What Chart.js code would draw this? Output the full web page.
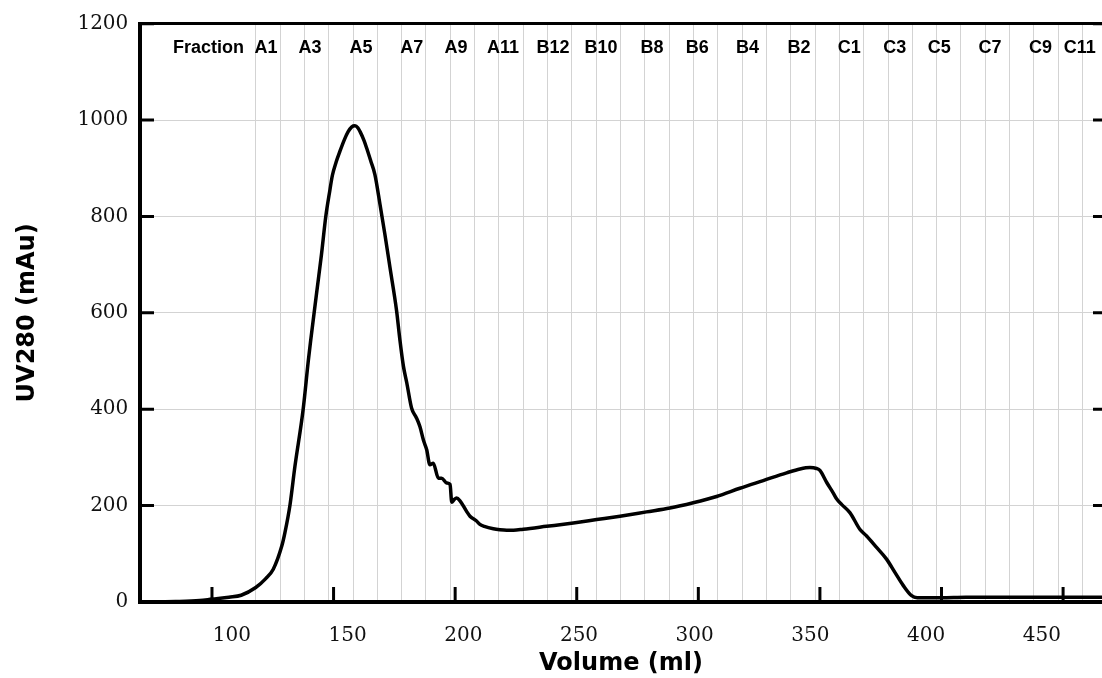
<!DOCTYPE html>
<html>
<head>
<meta charset="utf-8">
<title>UV280 elution profile</title>
<script src="https://cdn.jsdelivr.net/npm/chart.js@4.4.1/dist/chart.umd.min.js"></script>
<style>
  body { margin: 0; background: #fff; }
  #wrap { width: 1102px; height: 678px; }
</style>
</head>
<body>
<div id="wrap"><canvas id="uvchart" width="1102" height="678"></canvas></div>
<script>
// elution volume (ml) and absorbance (mAu)
var volumes = [70, 85, 95, 100, 107, 112, 118, 122, 125.2, 128.7,
  130, 132.1, 134.1, 137.5, 139.6, 140.6, 143, 145, 146.8, 148.5,
  149.5, 151, 152.6, 154.5, 156, 157.5, 158.8, 160, 160.9, 162.5,
  163.6, 165.3, 167, 169.1, 171.1, 173.2, 175.9, 177.3, 178.7, 180.1,
  182.1, 184, 185.5, 187, 188.3, 189.6, 191, 193.1, 194.4, 196.5,
  197.9, 198.6, 199.5, 200.6, 202, 204.7, 206.1, 208.8, 210.2, 212,
  215.7, 218.4, 221.2, 224, 228, 237.6, 248.6, 258.2, 267.8, 278.7,
  288.3, 297.9, 307.5, 317.1, 326.7, 336.3, 341.8, 345.9, 348.6, 350,
  352.8, 355.5, 357, 359, 362.4, 366.4, 369.2, 373, 377.4, 380.9,
  384.3, 387.7, 390, 392.5, 400, 410, 420, 440, 466];
var uv280 = [0, 1, 3, 6, 10, 14, 30, 48, 68, 116,
  144, 202, 281, 400, 500, 543, 640, 720, 800, 855,
  885, 912, 935, 960, 976, 986, 988, 984, 976, 958,
  942, 915, 887, 825, 763, 694, 605, 543, 490, 455,
  402, 383, 364, 335, 316, 285, 288, 257, 257, 247,
  244, 207, 212, 216, 210, 188, 178, 168, 161, 157,
  152, 150, 149, 149, 151, 157, 164, 171, 178, 187,
  195, 206, 219, 236, 252, 268, 276, 279, 277, 273,
  248, 226, 213, 202, 185, 151, 137, 115, 89, 61,
  34, 13, 9, 9, 9, 10, 10, 10, 10];

var volumeTicks = [100, 150, 200, 250, 300, 350, 400, 450];
var uvTicks = [0, 200, 400, 600, 800, 1000, 1200];

// fraction boundaries (ml) and the fraction names along the top
var fractionEdges = [118, 128, 138, 148, 158, 168, 178, 188, 198, 208,
  218, 228, 238, 248, 258, 268, 278, 288, 298, 308,
  318, 328, 338, 348, 358, 368, 378, 388, 398, 408,
  418, 428, 438, 448, 458];
var fractionNames = ['Fraction', 'A1', 'A3', 'A5', 'A7', 'A9', 'A11', 'B12', 'B10', 'B8',
  'B6', 'B4', 'B2', 'C1', 'C3', 'C5', 'C7', 'C9', 'C11'];
var fractionPos = [98.6, 122.2, 140.3, 161.3, 182.2, 200.3, 219.7, 240.2, 260.0, 280.9,
  299.6, 320.2, 341.4, 362.1, 380.8, 399.1, 419.9, 440.7, 456.9];

var points = volumes.map(function (v, i) { return {x: v, y: uv280[i]}; });

// inward tick marks on left, right and bottom
var tickMarks = {
  id: 'tickMarks',
  afterDatasetsDraw: function (chart) {
    var ctx = chart.ctx, a = chart.chartArea;
    var xs = chart.scales.x, ys = chart.scales.y;
    ctx.save();
    ctx.strokeStyle = '#000';
    ctx.lineWidth = 3;
    ctx.beginPath();
    uvTicks.forEach(function (v) {
      var py = ys.getPixelForValue(v);
      ctx.moveTo(a.left, py); ctx.lineTo(a.left + 14, py);
      ctx.moveTo(a.right - 9, py); ctx.lineTo(a.right, py);
    });
    volumeTicks.forEach(function (v) {
      var px = xs.getPixelForValue(v);
      ctx.moveTo(px, a.bottom); ctx.lineTo(px, a.bottom - 15);
    });
    ctx.stroke();
    ctx.restore();
  }
};

var serif = {family: 'DejaVu Serif', size: 20};
var titleFont = {family: 'DejaVu Sans', size: 24, weight: 'bold'};

new Chart(document.getElementById('uvchart'), {
  type: 'line',
  data: {
    datasets: [{
      data: points,
      xAxisID: 'x',
      yAxisID: 'y',
      borderColor: '#000',
      borderWidth: 3.5,
      pointRadius: 0,
      fill: false,
      cubicInterpolationMode: 'monotone',
      borderJoinStyle: 'round',
      borderCapStyle: 'round'
    }]
  },
  options: {
    responsive: false,
    animation: false,
    devicePixelRatio: 1,
    layout: { padding: 0 },
    plugins: {
      legend: { display: false },
      tooltip: { enabled: false }
    },
    scales: {
      x: {
        type: 'linear', position: 'bottom', weight: 0,
        min: 70.4, max: 466,
        afterBuildTicks: function (s) { s.ticks = fractionEdges.map(function (v) { return {value: v}; }); },
        afterFit: function (s) { s.height = 0; },
        ticks: { display: false },
        grid: { color: '#d3d3d3', lineWidth: 1, drawTicks: false },
        border: { display: true, color: '#000', width: 4 }
      },
      xLab: {
        type: 'linear', position: 'bottom', weight: 1,
        min: 60.3, max: 476,
        afterBuildTicks: function (s) { s.ticks = volumeTicks.map(function (v) { return {value: v}; }); },
        afterFit: function (s) { s.height = 76; },
        grid: { display: false },
        border: { display: false },
        ticks: { padding: 13.5, color: '#111', font: serif, maxRotation: 0, autoSkip: false },
        title: { display: true, text: 'Volume (ml)', color: '#000', font: titleFont, padding: {top: 0, bottom: 0} }
      },
      xTop: {
        type: 'linear', position: 'top',
        min: 70.4, max: 466,
        afterBuildTicks: function (s) { s.ticks = fractionPos.map(function (v) { return {value: v}; }); },
        afterFit: function (s) { s.height = 21; },
        grid: { drawOnChartArea: false, drawTicks: false },
        border: { display: true, color: '#000', width: 3 },
        ticks: {
          mirror: true, padding: 6, autoSkip: false, maxRotation: 0, color: '#000',
          font: {family: 'Liberation Sans', size: 18, weight: 'bold', lineHeight: 2},
          callback: function (v, i) { return fractionNames[i]; }
        }
      },
      y: {
        type: 'linear', position: 'left',
        min: 0, max: 1200,
        afterFit: function (s) { s.width = 140; },
        ticks: {
          stepSize: 200, padding: 11.7, color: '#111', font: serif,
          callback: function (v) { return String(v); }
        },
        grid: { color: '#d3d3d3', drawTicks: false },
        border: { display: true, color: '#000', width: 4 },
        title: { display: true, text: 'UV280 (mAu)', color: '#000', font: titleFont, padding: {top: 13.6, bottom: 0} }
      }
    }
  },
  plugins: [tickMarks]
});
</script>
</body>
</html>
